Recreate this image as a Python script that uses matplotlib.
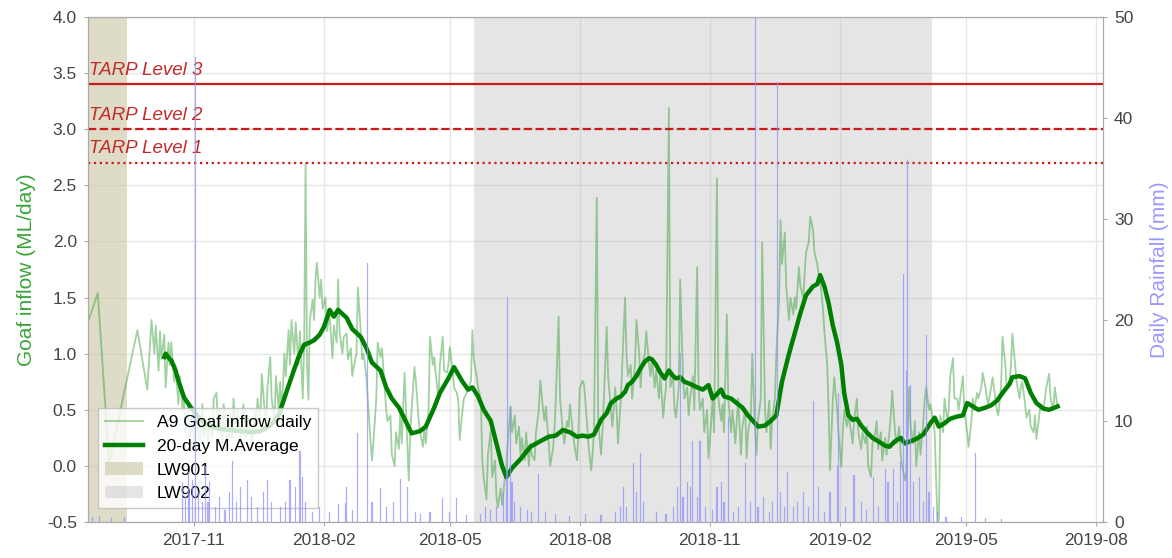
import numpy as np
import pandas as pd
import matplotlib
matplotlib.use('Agg')
import matplotlib.pyplot as plt
import matplotlib.dates as mdates
from matplotlib.patches import Patch
from matplotlib.lines import Line2D

# ---------------- data (days counted from start_date) ----------------
start_date = '2017-08-18'

inflow_daily = [(0,1.28),(7,1.54),(15,0.02),(35,1.21),(42,0.68),
(45,1.30),(47,1.0),(48,1.25),(50,0.85),(51,1.2),(52,0.95),(54,1.17),(55,0.7),(57,1.1),(58,0.9),(59,1.1),(61,0.75),(62,0.9),(64,0.55),(65,0.8),(67,0.5),(68,0.65),(69,0.3),(71,0.55),(72,0.25),(74,0.45),(75,0.2),(76,0.5),(78,0.3),(79,0.15),(81,0.55),(82,0.25),(84,0.4),(85,0.15),(86,0.45),(88,0.25),(89,0.6),(91,0.65),(92,0.3),(93,0.5),(95,0.2),(96,0.55),(98,0.3),(99,0.15),(101,0.45),(102,0.25),(103,0.6),(105,0.3),(106,0.5),(108,0.2),(109,0.4),(110,0.55),(112,0.25),(113,0.45),(115,0.35),(116,0.2),(118,0.5),(119,0.3),(120,0.6),(122,0.4),(123,0.82),(125,0.5),(126,0.3),(127,0.7),(129,0.97),(130,0.6),(132,0.4),(133,0.8),(135,0.5),(136,0.75),(137,0.45),(139,1.0),(140,0.8),(142,1.21),(143,0.9),(144,1.3),(146,1.0),(147,1.28),(149,0.9),(150,1.2),(152,0.6),(153,1.1),(154,2.70),(155,0.9),(156,0.59),(157,1.3),(159,1.48),(160,1.3),(161,1.66),(162,1.81),(164,1.5),(165,1.66),(166,1.4),(168,1.5),(169,1.2),(171,1.35),(173,0.96),(174,1.25),(176,1.1),(177,1.66),(178,1.2),(180,1.0),(181,1.15),(183,1.18),(184,0.95),(186,1.05),(187,0.8),(188,0.88),(190,1.0),(191,1.59),(193,1.2),(194,0.95),(195,1.0),(197,0.8),(198,0.6),(200,0.2),(201,0.05),(203,0.4),(204,0.6),(205,1.1),(207,0.97),(208,1.05),(210,0.7),(211,0.5),(212,0.4),(214,0.45),(215,0.1),(217,0.0),(218,0.3),(220,0.15),(221,0.5),(222,0.2),(224,0.83),(225,0.5),(227,-0.13),(228,0.3),(229,0.5),(231,0.88),(232,0.76),(234,0.4),(235,0.3),(237,0.17),(238,0.35),(239,0.2),(241,0.5),(242,1.15),(244,0.9),(245,0.97),(246,0.83),(248,0.6),(249,0.9),(251,1.15),(252,0.85),(254,0.83),(255,0.9),(256,1.06),(258,0.85),(259,0.7),(261,0.65),(262,0.59),(263,0.23),(265,0.5),(266,0.6),(268,0.65),(269,0.68),(271,0.76),(272,1.21),(273,0.95),(275,0.8),(276,0.7),(278,0.59),(279,0.05),(280,-0.1),(282,-0.3),(283,0.1),(285,0.32),(286,-0.1),(288,0.05),(289,-0.27),(290,-0.37),(292,-0.2),(293,-0.35),(295,-0.1),(296,0.0),(297,0.2),(299,0.53),(300,0.3),(302,0.45),(303,0.2),(305,0.35),(306,0.1),(307,0.25),(309,0.05),(310,0.3),(312,0.0),(313,0.2),(314,0.1),(316,0.05),(317,0.3),(319,0.5),(320,0.76),(322,0.5),(323,0.4),(324,0.53),(326,0.2),(327,0.0),(329,0.15),(330,0.3),(331,0.6),(333,1.33),(334,0.6),(336,0.3),(337,0.2),(339,0.4),(340,0.35),(341,0.55),(343,0.3),(344,0.2),(346,0.05),(347,0.3),(348,0.7),(350,0.76),(351,0.72),(353,0.4),(354,0.2),(356,-0.04),(357,0.1),(358,0.3),(360,2.39),(361,0.4),(363,0.1),(364,0.3),(365,0.6),(367,1.24),(368,0.8),(370,0.5),(371,0.35),(373,0.7),(374,0.5),(375,0.2),(377,0.6),(378,0.9),(380,1.50),(381,1.0),(382,0.8),(384,0.9),(385,0.6),(387,0.9),(388,1.3),(390,1.0),(391,0.7),(392,0.9),(394,1.0),(395,1.2),(397,0.9),(398,0.8),(399,0.95),(401,0.7),(402,0.85),(404,0.6),(405,0.8),(407,0.43),(408,0.6),(409,0.7),(411,3.19),(412,0.7),(414,0.8),(415,0.5),(416,0.43),(418,0.7),(419,1.66),(421,0.8),(422,0.6),(424,0.7),(425,0.45),(426,0.6),(428,0.8),(429,0.5),(431,1.77),(432,0.7),(433,0.5),(435,0.6),(436,0.3),(438,0.5),(439,0.07),(441,0.4),(442,0.6),(443,0.3),(445,2.56),(446,0.6),(448,0.4),(449,0.55),(450,0.3),(452,1.35),(453,0.6),(455,0.3),(456,0.5),(458,0.2),(459,0.4),(460,0.6),(462,0.1),(463,0.35),(465,0.5),(466,0.07),(467,0.3),(469,0.45),(470,1.00),(472,0.3),(473,0.1),(474,0.4),(476,0.6),(477,1.99),(479,0.5),(480,0.3),(482,0.58),(483,0.15),(484,0.4),(486,0.6),(487,1.0),(489,1.5),(490,2.19),(491,1.8),(493,2.08),(494,1.6),(496,1.3),(497,1.5),(499,1.35),(500,1.5),(501,1.4),(503,1.77),(504,1.6),(506,1.5),(507,1.7),(508,1.9),(510,2.0),(511,2.22),(513,2.1),(514,1.9),(516,1.8),(517,1.7),(518,1.66),(520,1.4),(521,1.2),(523,0.9),(524,0.5),(525,-0.04),(527,0.6),(528,0.79),(530,0.5),(531,0.29),(533,-0.01),(534,0.3),(535,0.5),(537,0.35),(538,0.45),(540,0.3),(541,0.2),(542,0.4),(544,0.6),(545,0.3),(547,0.15),(548,0.3),(550,0.2),(551,0.35),(552,0.0),(554,-0.1),(555,0.2),(557,0.3),(558,0.4),(559,0.15),(561,0.3),(562,0.05),(564,0.25),(565,0.1),(567,0.3),(568,0.45),(569,0.67),(571,0.3),(572,0.2),(574,0.35),(575,0.1),(576,0.0),(578,-0.13),(579,-0.05),(581,0.7),(582,0.35),(584,0.2),(585,0.4),(586,0.0),(588,0.3),(589,0.1),(591,0.4),(592,0.6),(593,0.7),(595,0.5),(596,0.55),(598,0.4),(599,0.3),(601,-0.5),(602,-0.48),(603,0.45),(605,0.3),(606,0.6),(608,0.4),(609,0.5),(610,0.8),(612,0.96),(613,0.6),(615,0.6),(616,0.5),(618,0.7),(619,0.8),(620,0.5),(622,0.3),(623,0.17),(625,0.4),(626,0.6),(627,0.5),(629,0.65),(630,0.6),(632,0.7),(633,0.83),(635,0.7),(636,0.6),(637,0.55),(639,0.7),(640,0.79),(642,0.6),(643,0.5),(644,0.45),(646,0.7),(647,1.15),(649,0.9),(650,0.7),(652,0.75),(653,0.9),(654,1.18),(656,0.9),(657,0.75),(659,0.6),(660,0.7),(661,0.75),(663,0.55),(664,0.43),(666,0.5),(667,0.35),(669,0.3),(670,0.45),(671,0.24),(673,0.45),(674,0.55),(676,0.5),(677,0.6),(678,0.7),(680,0.82),(681,0.6),(683,0.5),(684,0.7),(686,0.52)]

moving_avg = [(54,0.97),(55,1.0),(58,0.95),(59,0.94),(62,0.85),(64,0.76),(68,0.61),(74,0.50),(79,0.42),(86,0.36),(93,0.33),(101,0.32),(108,0.31),(115,0.30),(122,0.31),(129,0.36),(135,0.45),(137,0.53),(144,0.79),(149,0.97),(153,1.08),(157,1.10),(160,1.12),(164,1.17),(167,1.24),(170,1.35),(171,1.39),(174,1.33),(177,1.39),(183,1.32),(187,1.22),(193,1.15),(197,1.05),(201,0.92),(207,0.85),(211,0.70),(215,0.60),(220,0.52),(224,0.42),(229,0.29),(235,0.31),(239,0.35),(245,0.52),(249,0.65),(255,0.78),(259,0.88),(265,0.75),(269,0.68),(272,0.70),(276,0.62),(280,0.50),(285,0.40),(289,0.20),(293,0.0),(296,-0.10),(300,-0.02),(306,0.06),(313,0.17),(320,0.22),(326,0.26),(331,0.27),(336,0.32),(341,0.30),(346,0.26),(350,0.27),(354,0.26),(358,0.28),(363,0.41),(367,0.47),(370,0.56),(374,0.60),(377,0.62),(380,0.66),(382,0.72),(385,0.75),(388,0.80),(391,0.87),(394,0.93),(397,0.96),(399,0.95),(402,0.90),(405,0.83),(408,0.78),(411,0.85),(414,0.80),(416,0.78),(419,0.79),(422,0.75),(426,0.73),(431,0.70),(435,0.68),(439,0.72),(442,0.60),(445,0.64),(448,0.68),(450,0.62),(455,0.60),(459,0.56),(463,0.52),(467,0.45),(472,0.38),(474,0.35),(479,0.36),(483,0.40),(487,0.45),(491,0.75),(496,1.00),(500,1.18),(504,1.36),(508,1.52),(513,1.60),(516,1.62),(518,1.70),(521,1.60),(524,1.45),(527,1.25),(530,1.10),(533,0.90),(535,0.65),(538,0.45),(541,0.41),(544,0.42),(547,0.36),(551,0.30),(555,0.25),(559,0.22),(564,0.18),(567,0.17),(571,0.22),(575,0.25),(578,0.20),(582,0.22),(586,0.24),(591,0.28),(593,0.32),(596,0.38),(599,0.43),(602,0.35),(606,0.38),(610,0.42),(615,0.44),(619,0.45),(622,0.56),(626,0.53),(630,0.50),(635,0.52),(639,0.54),(643,0.58),(647,0.65),(652,0.73),(654,0.79),(659,0.80),(663,0.78),(667,0.65),(671,0.56),(676,0.51),(680,0.50),(684,0.52),(686,0.53)]

rainfall = [(3,0.5),(8,0.6),(17,0.4),(26,0.5),(67,4),(69,2.5),(71,5),(72,3),(74,4.2),(76,46),(78,3),(81,2),(83,5.5),(85,2),(86,4),(90,1.5),(93,2.5),(97,1.2),(100,3),(102,6),(105,2),(108,3.5),(113,4.2),(116,2.5),(120,1.5),(124,3),(127,4.2),(130,2),(136,1.5),(140,2),(143,4.2),(147,3.5),(150,7),(152,4.5),(154,2),(159,1),(164,1.5),(171,1),(177,1.8),(182,1.9),(183,3.5),(187,1.2),(191,8.8),(198,25.6),(201,2),(207,3.4),(211,1.5),(216,2),(221,4.3),(226,3.5),(232,1),(235,0.8),(242,1),(251,2.4),(256,1),(261,2.4),(268,0.7),(278,0.8),(281,1.5),(285,1.2),(289,1.5),(294,3),(296,5),(297,22.3),(299,11.4),(300,4),(302,2),(306,1.5),(311,1.2),(314,1),(319,4.8),(324,1),(331,0.8),(341,0.6),(352,0.8),(363,0.7),(373,1),(377,1.5),(379,3.5),(381,1.5),(386,5.8),(388,3),(391,6.8),(393,2),(402,1),(409,0.8),(414,1.5),(417,3.5),(419,16.7),(421,2.5),(424,4),(426,3.5),(428,8),(431,2.5),(433,8),(437,1.5),(442,1.2),(445,3.5),(448,4),(450,2),(453,10.4),(457,1),(460,1.5),(465,5.8),(469,2),(472,55),(474,1.5),(478,2.5),(482,1),(484,2),(488,43.6),(490,3),(493,1.5),(495,5),(499,1.5),(502,2),(506,3),(510,1.5),(513,12),(517,3.5),(521,1),(525,3),(530,5.5),(531,12.8),(536,1.5),(542,4.7),(547,2),(551,1.2),(556,4.5),(559,1.5),(564,5.2),(566,4),(570,5.2),(573,2),(575,6),(577,24.6),(579,15),(580,35.8),(582,13.6),(584,4),(588,4.5),(591,2),(593,18.5),(595,3),(598,1.5),(601,1),(607,0.5),(618,0.5),(628,6.8),(635,0.4),(646,0.3)]

tarp_levels = [3.4, 3.0, 2.7]
tarp_labels = ['TARP Level 3', 'TARP Level 2', 'TARP Level 1']
panel_names = ['LW901', 'LW902']
panel_start = ['2017-08-01', '2018-05-18']
panel_end = ['2017-09-15', '2019-04-07']

# ---------------- build series ----------------
t0 = pd.Timestamp(start_date)
def to_dates(pairs):
    d = [t0 + pd.Timedelta(days=p[0]) for p in pairs]
    v = [p[1] for p in pairs]
    return d, v

inf_d, inf_v = to_dates(inflow_daily)
ma_d, ma_v = to_dates(moving_avg)
rn_d, rn_v = to_dates(rainfall)

plt.rcParams['font.family'] = ['Liberation Sans', 'DejaVu Sans']

fig = plt.figure(figsize=(11.72, 5.58), dpi=100)
ax1 = fig.add_axes([0.075, 0.0645, 0.866, 0.905])

span_cols = ['#c9c6a0', '#bfbfbf']
span_alpha = [0.6, 0.4]
for name, s, e, c, a in zip(panel_names, panel_start, panel_end, span_cols, span_alpha):
    ax1.axvspan(pd.Timestamp(s), pd.Timestamp(e), color=c, alpha=a, lw=0, zorder=1)

ax1.plot(inf_d, inf_v, color='#2e9a2e', alpha=0.45, lw=1.3, zorder=3)
ax1.plot(ma_d, ma_v, color='#008000', lw=3.2, zorder=4)

styles = ['-', '--', ':']
for lvl, lab, ls in zip(tarp_levels, tarp_labels, styles):
    ax1.axhline(lvl, color='#cc1a1a', ls=ls, lw=1.6, zorder=5)
    ax1.text(t0 + pd.Timedelta(days=1), lvl + 0.05, lab, color='#c42a2a',
             fontsize=13.5, style='italic', va='bottom', ha='left', zorder=6)

ax1.set_ylim(-0.5, 4.0)
ax1.set_yticks(np.arange(-0.5, 4.01, 0.5))
ax1.yaxis.set_major_formatter(matplotlib.ticker.FormatStrFormatter('%.1f'))
ax1.set_xlim(t0, pd.Timestamp('2019-08-06'))
ax1.xaxis.set_major_locator(mdates.MonthLocator(bymonth=[2, 5, 8, 11]))
ax1.xaxis.set_major_formatter(mdates.DateFormatter('%Y-%m'))
ax1.grid(True, color='#e6e6e6', lw=1, zorder=0)
ax1.set_axisbelow(True)
ax1.set_ylabel('Goaf inflow (ML/day)', color='#3aa53a', fontsize=15, labelpad=8)
ax1.tick_params(axis='both', labelsize=12.5, colors='#aaaaaa', labelcolor='#444444', length=3, pad=5)
for sp in ax1.spines.values():
    sp.set_color('#aaaaaa')

ax2 = ax1.twinx()
ax2.bar(rn_d, rn_v, width=0.8, color='#9090ff', edgecolor='#9090ff', alpha=0.7,
        lw=0.15, zorder=2)
ax2.set_ylim(0, 50)
ax2.set_yticks(np.arange(0, 51, 10))
ax2.set_ylabel('Daily Rainfall (mm)', color='#9a9aff', fontsize=15, labelpad=12)
ax2.tick_params(axis='y', labelsize=12.5, colors='#aaaaaa', labelcolor='#444444', length=3, pad=5)
ax2.grid(False)
for sp in ax2.spines.values():
    sp.set_color('#aaaaaa')

handles = [Line2D([], [], color='#2e9a2e', alpha=0.45, lw=1.3),
           Line2D([], [], color='#008000', lw=3.2),
           Patch(facecolor=span_cols[0], alpha=span_alpha[0], lw=0),
           Patch(facecolor=span_cols[1], alpha=span_alpha[1], lw=0)]
labels = ['A9 Goaf inflow daily', '20-day M.Average'] + panel_names
leg = ax1.legend(handles, labels, loc='lower left', bbox_to_anchor=(0.001, 0.01),
                 fontsize=12.5, framealpha=0.8, edgecolor='#bbbbbb', fancybox=False,
                 handlelength=2.2)
leg.set_zorder(10)

fig.savefig('out.png', dpi=100)
